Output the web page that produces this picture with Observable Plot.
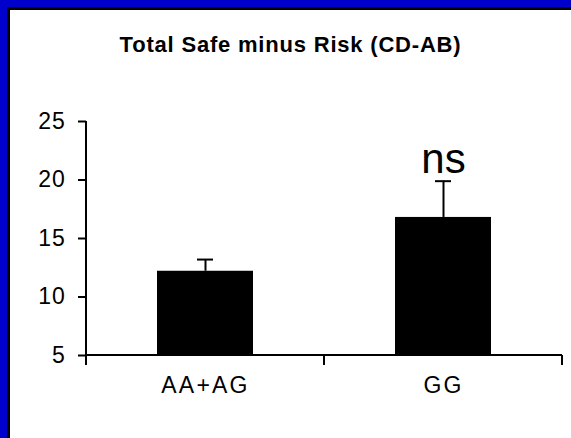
<!DOCTYPE html>
<html>
<head>
<meta charset="utf-8">
<script src="https://cdn.jsdelivr.net/npm/d3@7"></script>
<script src="https://cdn.jsdelivr.net/npm/@observablehq/plot@0.6"></script>
<style>
  html, body { margin: 0; padding: 0; background: #fff; overflow: hidden; width: 571px; height: 438px; }
  .bar { position: absolute; }
  #blueL { left: 0; top: 0; width: 7px; height: 438px; background: #0000cc; }
  #blueT { left: 0; top: 0; width: 571px; height: 7px; background: #0000cc; }
  #blackL { left: 7px; top: 7px; width: 3px; height: 431px; background: #000; }
  #blackT { left: 7px; top: 7px; width: 564px; height: 3px; background: #000; }
  #content { position: absolute; left: 10px; top: 10px; width: 561px; height: 428px; background: #fff; }
  #title { height: 60px; box-sizing: border-box; padding-top: 24px; text-align: center;
           font: bold 22px "Liberation Sans", Arial, sans-serif; line-height: 22px; letter-spacing: 0.8px; color: #000; }
  #chart svg { display: block; }
  #chart g[aria-label="y-axis tick"] path { stroke-width: 2; }
  #chart g[aria-label="x-axis tick label"] text { letter-spacing: 2.2px; }
  #chart g[aria-label="y-axis tick label"] text { letter-spacing: 0.8px; }
</style>
</head>
<body>
<div id="content">
  <div id="title"></div>
  <div id="chart"></div>
</div>
<div class="bar" id="blueL"></div>
<div class="bar" id="blueT"></div>
<div class="bar" id="blackL"></div>
<div class="bar" id="blackT"></div>
<script>
const title = "Total Safe minus Risk (CD-AB)";
const categories = ["AA+AG", "GG"];
const means = [12.2, 16.8];
const errors = [1.0, 3.1];
const annotations = ["", "ns"];
const yTicks = [5, 10, 15, 20, 25];

document.getElementById("title").textContent = title;

const data = categories.map((c, i) => ({cat: c, mean: means[i], hi: means[i] + errors[i], note: annotations[i]}));
const yMin = yTicks[0], yMax = yTicks[yTicks.length - 1];

const axisLines = (index, scales) => {
  const {x, y} = scales;
  const step = x(categories[1]) - x(categories[0]);
  const x0 = x(categories[0]);
  const n = categories.length;
  const yb = y(yMin), yt = y(yMax);
  const g = d3.create("svg:g").attr("stroke", "#000").attr("stroke-width", 2).attr("fill", "none");
  g.append("line").attr("x1", x0).attr("x2", x0).attr("y1", yt).attr("y2", yb + 10);
  g.append("line").attr("x1", x0).attr("x2", x0 + step * n).attr("y1", yb).attr("y2", yb);
  for (let i = 1; i <= n; i++) {
    g.append("line").attr("x1", x0 + step * i).attr("x2", x0 + step * i).attr("y1", yb).attr("y2", yb + 10);
  }
  return g.node();
};

const chart = Plot.plot({
  width: 561,
  height: 368,
  marginLeft: 76,
  marginRight: 9,
  marginTop: 51,
  marginBottom: 83,
  style: {fontFamily: "'Liberation Sans', Arial, sans-serif", fontSize: "23px", color: "#000", background: "#fff"},
  x: {type: "band", domain: categories, padding: 0, tickSize: 0, tickPadding: 21, label: null},
  y: {domain: [yMin, yMax], ticks: yTicks, tickSize: 8, tickPadding: 13, label: null},
  marks: [
    Plot.barY(data, {x: "cat", y1: yMin, y2: "mean", fill: "#000", insetLeft: 71, insetRight: 71}),
    Plot.ruleX(data, {x: "cat", y1: "mean", y2: "hi", stroke: "#000", strokeWidth: 2}),
    Plot.tickY(data, {x: "cat", y: "hi", stroke: "#000", strokeWidth: 2, insetLeft: 111, insetRight: 111}),
    Plot.text(data, {x: "cat", y: "hi", text: "note", dy: -8, lineAnchor: "bottom", fontSize: 42, fill: "#000"}),
    axisLines
  ]
});
document.getElementById("chart").appendChild(chart);
</script>
</body>
</html>
